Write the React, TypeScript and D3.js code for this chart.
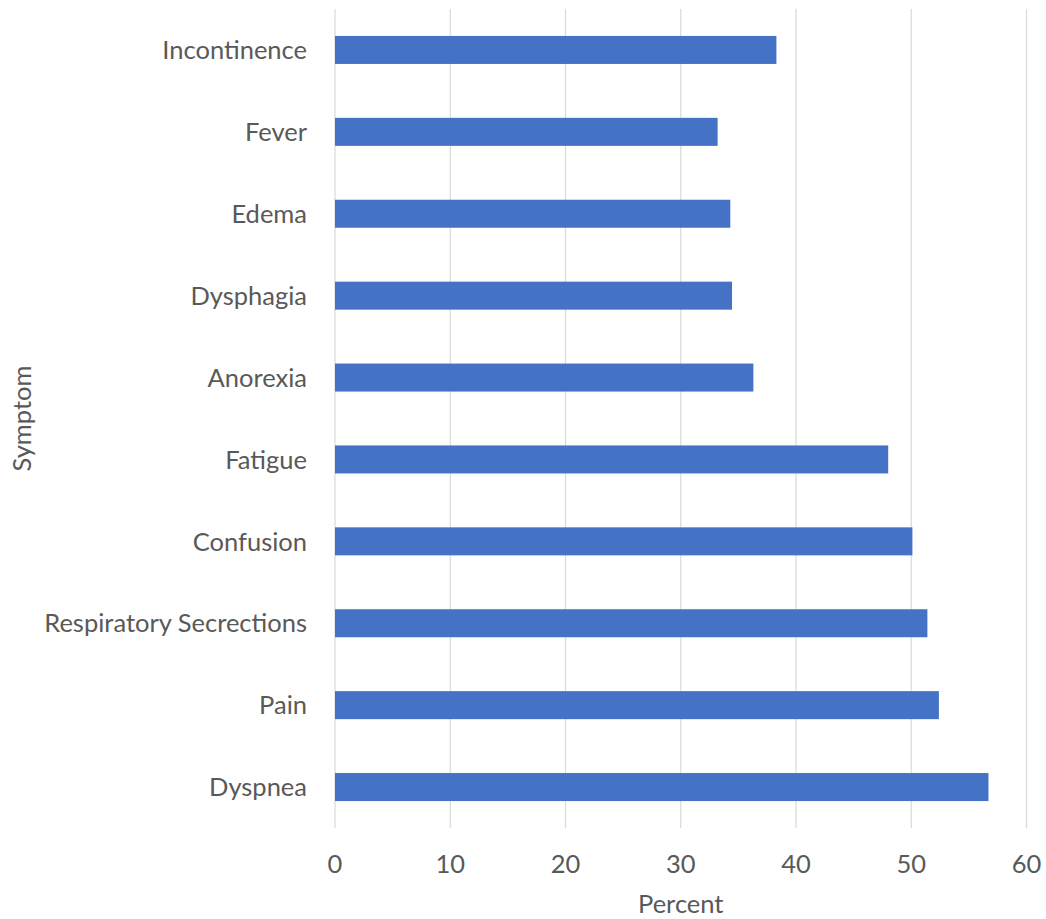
import React from "react";
import * as d3 from "d3";

const categories: string[] = [
  "Incontinence",
  "Fever",
  "Edema",
  "Dysphagia",
  "Anorexia",
  "Fatigue",
  "Confusion",
  "Respiratory Secrections",
  "Pain",
  "Dyspnea",
];
const percentValues: number[] = [38.3, 33.2, 34.3, 34.45, 36.3, 48.0, 50.1, 51.4, 52.4, 56.7];
const xTicks: number[] = [0, 10, 20, 30, 40, 50, 60];
const xAxisTitle = "Percent";
const yAxisTitle = "Symptom";

const W = 1046;
const H = 919;
const plot = { left: 335, right: 1026.5, top: 9, bottom: 828 };
const FONT = "Lato, 'Open Sans', sans-serif";
const TEXT = "#595959";
const FS = 25.5;

export default function App() {
  const x = d3.scaleLinear().domain([0, 60]).range([plot.left, plot.right]);
  const y = d3
    .scaleBand<string>()
    .domain(categories)
    .range([plot.top, plot.bottom])
    .paddingInner(0.658)
    .paddingOuter(0.329);

  return (
    <svg
      width={W}
      height={H}
      style={{ position: "absolute", left: 0, top: 0, background: "#fff" }}
      fontFamily={FONT}
    >
      <rect x={0} y={0} width={W} height={H} fill="#fff" />
      {xTicks.map((t) => (
        <line
          key={"g" + t}
          x1={x(t)}
          x2={x(t)}
          y1={plot.top}
          y2={plot.bottom}
          stroke="#d9d9d9"
          strokeWidth={1.2}
        />
      ))}
      {categories.map((c, i) => (
        <rect
          key={c}
          x={x(0)}
          y={y(c)}
          width={x(percentValues[i]) - x(0)}
          height={y.bandwidth()}
          fill="#4472C4"
        />
      ))}
      {categories.map((c) => (
        <text
          key={"l" + c}
          x={plot.left - 28}
          y={(y(c) as number) + y.bandwidth() / 2}
          dy="0.36em"
          textAnchor="end"
          fontSize={FS}
          fill={TEXT}
        >
          {c}
        </text>
      ))}
      {xTicks.map((t) => (
        <text
          key={"t" + t}
          x={x(t)}
          y={873}
          textAnchor="middle"
          fontSize={FS}
          fill={TEXT}
        >
          {t}
        </text>
      ))}
      <text x={x(30)} y={912.5} textAnchor="middle" fontSize={FS} fill={TEXT}>
        {xAxisTitle}
      </text>
      <text
        transform={`translate(31, ${(plot.top + plot.bottom) / 2}) rotate(-90)`}
        textAnchor="middle"
        fontSize={FS}
        fill={TEXT}
      >
        {yAxisTitle}
      </text>
    </svg>
  );
}
